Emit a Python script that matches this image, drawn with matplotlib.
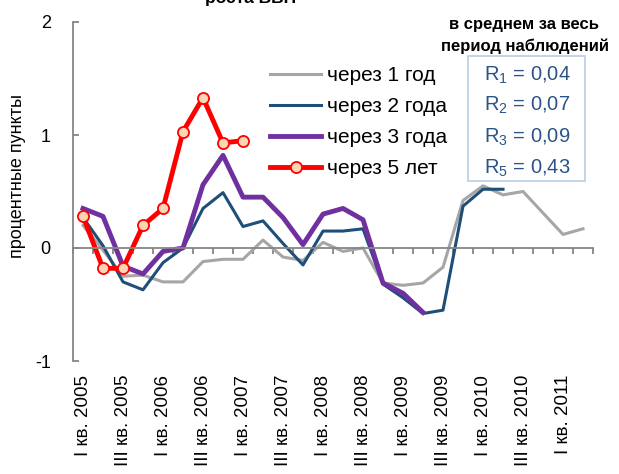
import matplotlib
matplotlib.use('Agg')
import matplotlib.pyplot as plt
import matplotlib.transforms as mtransforms
from matplotlib.patches import Rectangle

plt.rcParams['font.family'] = ['Liberation Sans', 'DejaVu Sans']
plt.rcParams['mathtext.fontset'] = 'custom'
plt.rcParams['mathtext.rm'] = 'Liberation Sans'

# квартальные точки: I кв. 2005 ... II кв. 2011
quarters = []
for year in range(2005, 2012):
    for q in ['I', 'II', 'III', 'IV']:
        quarters.append(q + ' кв. ' + str(year))
quarters = quarters[:26]

y_1year = [0.20, -0.02, -0.25, -0.24, -0.30, -0.30, -0.12, -0.10, -0.10, 0.07,
           -0.08, -0.11, 0.05, -0.03, 0.00, -0.31, -0.33, -0.31, -0.17, 0.42,
           0.55, 0.47, 0.50, 0.31, 0.12, 0.17]
y_2year = [0.27, 0.02, -0.30, -0.37, -0.13, 0.00, 0.35, 0.49, 0.19, 0.24,
           0.04, -0.15, 0.15, 0.15, 0.17, -0.32, -0.44, -0.58, -0.55, 0.37,
           0.52, 0.52]
y_3year = [0.35, 0.28, -0.16, -0.23, -0.03, 0.00, 0.56, 0.82, 0.45, 0.45,
           0.27, 0.03, 0.30, 0.35, 0.25, -0.31, -0.40, -0.57]
y_5year = [0.28, -0.18, -0.18, 0.20, 0.35, 1.03, 1.33, 0.93, 0.95]

series_names = ['через 1 год', 'через 2 года', 'через 3 года', 'через 5 лет']
r_labels = [r'$\mathrm{R}_1$ = 0,04', r'$\mathrm{R}_2$ = 0,07',
            r'$\mathrm{R}_3$ = 0,09', r'$\mathrm{R}_5$ = 0,43']

W, H = 619, 474
fig = plt.figure(figsize=(W / 100, H / 100), dpi=100)
ax = fig.add_axes([73 / W, 113 / H, 520 / W, 339 / H])

ax.plot(range(len(y_1year)), y_1year, color='#a6a6a6', lw=2.2, label=series_names[0])
ax.plot(range(len(y_2year)), y_2year, color='#1f4e79', lw=2.2, label=series_names[1])
ax.plot(range(len(y_3year)), y_3year, color='#7030a0', lw=3.5, label=series_names[2])
ax.plot(range(len(y_5year)), y_5year, color='#ff0000', lw=3.5, marker='o', ms=8,
        mfc='#fcd5b4', mec='#ff0000', mew=1.3, label=series_names[3])

ax.set_xlim(-0.5, 25.5)
ax.set_ylim(-1, 2)

# оси
axis_col = '#868686'
for s in ['top', 'right']:
    ax.spines[s].set_visible(False)
ax.spines['left'].set_color(axis_col)
ax.spines['left'].set_linewidth(1.3)
ax.spines['bottom'].set_position(('data', 0))
ax.spines['bottom'].set_color(axis_col)
ax.spines['bottom'].set_linewidth(1.3)

ax.set_yticks([-1, 0, 1, 2])
ax.set_yticklabels(['-1', '0', '1', '2'])
ax.tick_params(axis='y', direction='in', length=4, width=1.3, color=axis_col,
               labelsize=13, pad=16)
ax.set_xticks([i - 0.5 for i in range(27)])
ax.set_xticklabels([])
ax.tick_params(axis='x', direction='out', length=4, width=1.3, color=axis_col)

# подписи кварталов внизу (нижняя часть обрезана краем рисунка, как в оригинале)
trans = mtransforms.blended_transform_factory(ax.transData, fig.transFigure)
for i in range(0, len(quarters), 2):
    ax.text(i + 0.05, 1 - 375 / H, quarters[i], rotation=90, ha='center', va='top',
            fontsize=13.5, transform=trans)

fig.text(18 / W, 1 - 176 / H, 'процентные пункты', rotation=90, ha='center',
         va='center', fontsize=13)

fig.text(251 / W, 1 - 3 / H, 'роста ВВП', ha='center', va='baseline',
         fontsize=12.5, fontweight='bold')

fig.text(524 / W, 1 - 24 / H, 'в среднем за весь', ha='center', va='center',
         fontsize=12, fontweight='bold')
fig.text(525 / W, 1 - 46 / H, 'период наблюдений', ha='center', va='center',
         fontsize=12, fontweight='bold')

# легенда
ax.legend(loc='upper left', bbox_to_anchor=(270 / W, 1 - 66 / H),
          bbox_transform=fig.transFigure, frameon=False, fontsize=15,
          handlelength=2.45, handletextpad=0.3, labelspacing=0.58,
          borderpad=0, borderaxespad=0)

# рамка со средними
fig.patches.append(Rectangle((468 / W, 1 - 181 / H), 117 / W, 125 / H,
                             transform=fig.transFigure, fill=False,
                             edgecolor='#b9cde5', lw=1.2))
r_y = [75, 105, 137, 168]
for lab, yy in zip(r_labels, r_y):
    fig.text(527 / W, 1 - yy / H, lab, ha='center', va='center',
             fontsize=14.5, color='#2a5487')

fig.savefig('out.png', dpi=100)
